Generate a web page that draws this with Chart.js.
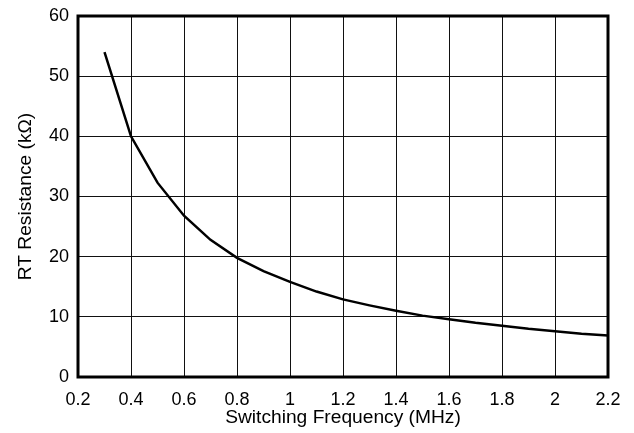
<!DOCTYPE html>
<html>
<head>
<meta charset="utf-8">
<script src="https://cdn.jsdelivr.net/npm/chart.js@4/dist/chart.umd.min.js"></script>
<style>
    html, body { margin: 0; padding: 0; background: #fff; }
    #wrap { width: 634px; height: 433px; }
</style>
</head>
<body>
<div id="wrap"><canvas id="chart"></canvas></div>
<script>
// values
const frequencies = [0.3, 0.4, 0.5, 0.6, 0.7, 0.8, 0.9, 1.0, 1.1, 1.2, 1.3, 1.4, 1.5, 1.6, 1.7, 1.8, 1.9, 2.0, 2.1, 2.2];
const resistances = [54, 40, 32.3, 26.8, 22.8, 19.8, 17.6, 15.8, 14.2, 12.9, 11.9, 11.0, 10.2, 9.6, 9.0, 8.5, 8.0, 7.6, 7.2, 6.9];

const xTitle = 'Switching Frequency (MHz)';
const yTitle = 'RT Resistance (k\u03A9)';

const points = frequencies.map((f, i) => ({ x: f, y: resistances[i] }));

// thick frame round the plot area
const frameBox = {
    id: 'frameBox',
    afterDraw(chart) {
        const { ctx, chartArea } = chart;
        ctx.save();
        ctx.strokeStyle = '#000';
        ctx.lineWidth = 3;
        ctx.strokeRect(chartArea.left, chartArea.top,
            chartArea.right - chartArea.left, chartArea.bottom - chartArea.top);
        ctx.restore();
    }
};

const family = '"Liberation Sans", Arial, sans-serif';
const tickFont = { family, size: 18 };
const titleFont = { family, size: 19.2 };

new Chart(document.getElementById('chart').getContext('2d'), {
    type: 'line',
    data: {
        datasets: [{
            data: points,
            borderColor: '#000',
            borderWidth: 2.5,
            pointRadius: 0,
            tension: 0,
            fill: false
        }]
    },
    options: {
        responsive: true,
        maintainAspectRatio: false,
        animation: false,
        layout: {
            padding: { top: 16, right: 26, left: 10, bottom: 0 }
        },
        plugins: {
            legend: { display: false },
            tooltip: { enabled: false }
        },
        scales: {
            x: {
                type: 'linear',
                min: 0.2,
                max: 2.2,
                afterFit: scale => {
                    scale.height = 56;
                    scale.paddingLeft = 0;
                    scale.paddingRight = 0;
                },
                ticks: {
                    stepSize: 0.2,
                    color: '#000',
                    font: tickFont,
                    padding: 12,
                    maxRotation: 0,
                    callback: v => String(Number(v.toFixed(1)))
                },
                grid: { color: '#111', lineWidth: 1, drawTicks: false },
                border: { display: false },
                title: { display: true, text: xTitle, color: '#000', font: titleFont, padding: { top: 0, bottom: 4 } }
            },
            y: {
                min: 0,
                max: 60,
                afterFit: scale => {
                    scale.width = 68;
                    scale.paddingTop = 0;
                    scale.paddingBottom = 0;
                },
                ticks: {
                    stepSize: 10,
                    color: '#000',
                    font: tickFont,
                    padding: 9
                },
                grid: { color: '#111', lineWidth: 1, drawTicks: false },
                border: { display: false },
                title: { display: true, text: yTitle, color: '#000', font: titleFont, padding: { top: 4, bottom: 0 } }
            }
        }
    },
    plugins: [frameBox]
});
</script>
</body>
</html>
